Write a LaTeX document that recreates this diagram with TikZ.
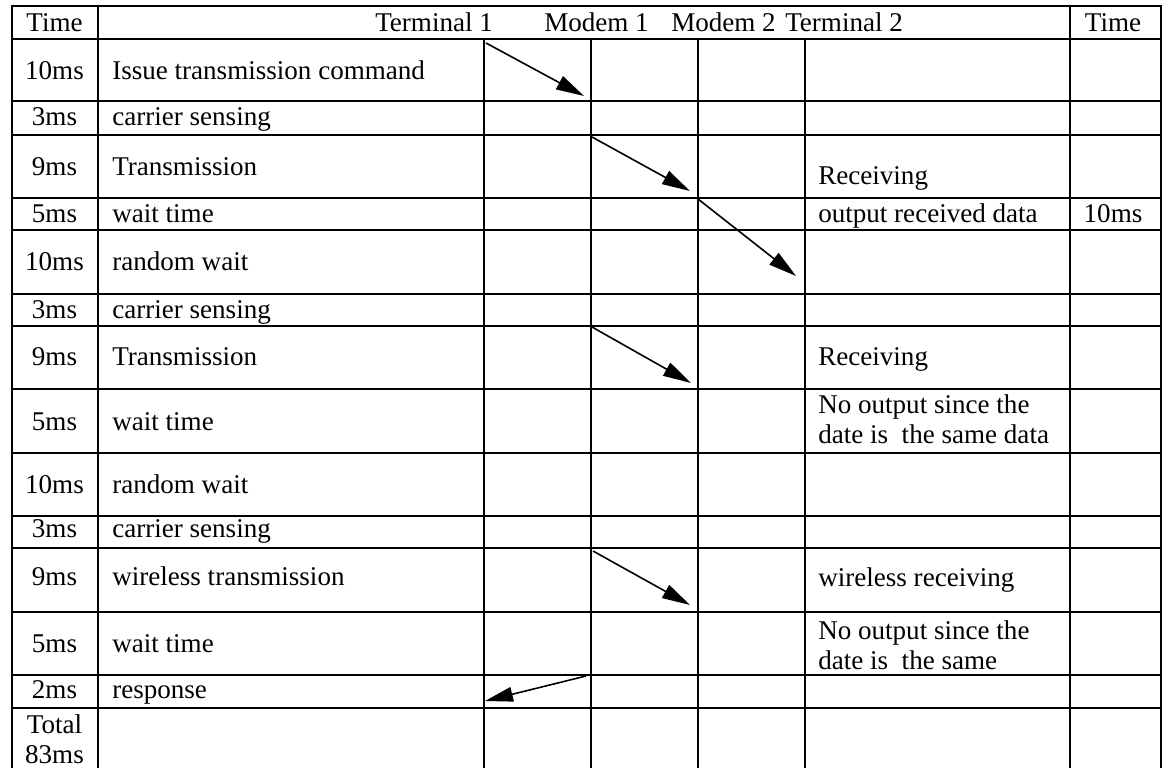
\documentclass[tikz,border=0pt]{standalone}
\usepackage{fontspec}
\setmainfont{Liberation Serif}
\usetikzlibrary{arrows.meta}

\begin{document}
\begin{tikzpicture}[x=0.75pt,y=0.75pt,yscale=-1,xscale=1,
  every node/.style={font=\fontsize{20.3}{22.5}\selectfont,inner sep=0pt},
  rule/.style={line width=1.6pt},
  msg/.style={line width=1.2pt,-{Triangle[length=21pt,width=11pt]}},
  lbl/.style={anchor=base west},
  ctr/.style={anchor=base}]
\useasboundingbox (0,0) rectangle (1166,768);

%outer frame and header
\draw [rule] (12,768) -- (12,6) -- (1161,6) -- (1161,768) ;
\draw [rule] (12,39) -- (1161,39) ;
\draw [rule] (98,6) -- (98,768) ;
\draw [rule] (1070,6) -- (1070,768) ;
\draw [rule] (484,39) -- (484,768) ;
\draw [rule] (591,39) -- (591,768) ;
\draw [rule] (698,39) -- (698,768) ;
\draw [rule] (805,39) -- (805,768) ;

%rows
\draw [rule] (12,101) -- (1161,101) ;
\draw [rule] (12,135) -- (1161,135) ;
\draw [rule] (12,198) -- (1161,198) ;
\draw [rule] (12,230) -- (1161,230) ;
\draw [rule] (12,294) -- (1161,294) ;
\draw [rule] (12,326) -- (1161,326) ;
\draw [rule] (12,389) -- (1161,389) ;
\draw [rule] (12,453) -- (1161,453) ;
\draw [rule] (12,516) -- (1161,516) ;
\draw [rule] (12,548) -- (1161,548) ;
\draw [rule] (12,612) -- (1161,612) ;
\draw [rule] (12,675) -- (1161,675) ;
\draw [rule] (12,708) -- (1161,708) ;

%message arrows
\coordinate (cmdS) at (486,43) ;
\coordinate (cmdE) at (584,96) ;
\coordinate (tx1S) at (592,137) ;
\coordinate (tx1E) at (690,191) ;
\coordinate (outS) at (698,199) ;
\coordinate (outE) at (796,276) ;
\coordinate (tx2S) at (592,327) ;
\coordinate (tx2E) at (691,383) ;
\coordinate (tx3S) at (593,551) ;
\coordinate (tx3E) at (690,605) ;
\coordinate (respS) at (586,676) ;
\coordinate (respE) at (485,701) ;
\draw [msg] (cmdS) -- (cmdE) ;
\draw [msg] (tx1S) -- (tx1E) ;
\draw [msg] (outS) -- (outE) ;
\draw [msg] (tx2S) -- (tx2E) ;
\draw [msg] (tx3S) -- (tx3E) ;
\draw [msg] (respS) -- (respE) ;

\draw (54.5,31) node [ctr] (timeL) {Time};
\draw (375,31) node [lbl] (term1) {Terminal 1};
\draw (544,31) node [lbl] (modem1) {Modem 1};
\draw (671,31) node [lbl] (modem2) {Modem 2};
\draw (785,31) node [lbl] (term2) {Terminal 2};
\draw (1113,31) node [ctr] (timeR) {Time};

\draw (54.5,79) node [ctr] (t1) {10ms};
\draw (54.5,125) node [ctr] (t2) {3ms};
\draw (54.5,175) node [ctr] (t3) {9ms};
\draw (54.5,222) node [ctr] (t4) {5ms};
\draw (54.5,270) node [ctr] (t5) {10ms};
\draw (54.5,318) node [ctr] (t6) {3ms};
\draw (54.5,365) node [ctr] (t7) {9ms};
\draw (54.5,430) node [ctr] (t8) {5ms};
\draw (54.5,493) node [ctr] (t9) {10ms};
\draw (54.5,537) node [ctr] (t10) {3ms};
\draw (54.5,585) node [ctr] (t11) {9ms};
\draw (54.5,652) node [ctr] (t12) {5ms};
\draw (54.5,698) node [ctr] (t13) {2ms};
\draw (54.5,733) node [ctr] (total) {\begin{tabular}[t]{@{}c@{}}Total\\83ms\end{tabular}};

\draw (112,79) node [lbl] (s1) {Issue transmission command};
\draw (112,125) node [lbl] (s2) {carrier sensing};
\draw (112,175) node [lbl] (s3) {Transmission};
\draw (112,222) node [lbl] (s4) {wait time};
\draw (112,270) node [lbl] (s5) {random wait};
\draw (112,318) node [lbl] (s6) {carrier sensing};
\draw (112,365) node [lbl] (s7) {Transmission};
\draw (112,430) node [lbl] (s8) {wait time};
\draw (112,493) node [lbl] (s9) {random wait};
\draw (112,537) node [lbl] (s10) {carrier sensing};
\draw (112,585) node [lbl] (s11) {wireless transmission};
\draw (112,652) node [lbl] (s12) {wait time};
\draw (112,698) node [lbl] (s13) {response};

\draw (818,184) node [lbl] (rx1) {Receiving};
\draw (818,222) node [lbl] (rx1out) {output received data};
\draw (1113,222) node [ctr] (rx1time) {10ms};
\draw (818,365) node [lbl] (rx2) {Receiving};
\draw (818,413) node [lbl] (rx2out) {\begin{tabular}[t]{@{}l@{}}No output since the\\date is~ the same data\end{tabular}};
\draw (818,586) node [lbl] (rx3) {wireless receiving};
\draw (818,639) node [lbl] (rx3out) {\begin{tabular}[t]{@{}l@{}}No output since the\\date is~ the same\end{tabular}};

\end{tikzpicture}
\end{document}
